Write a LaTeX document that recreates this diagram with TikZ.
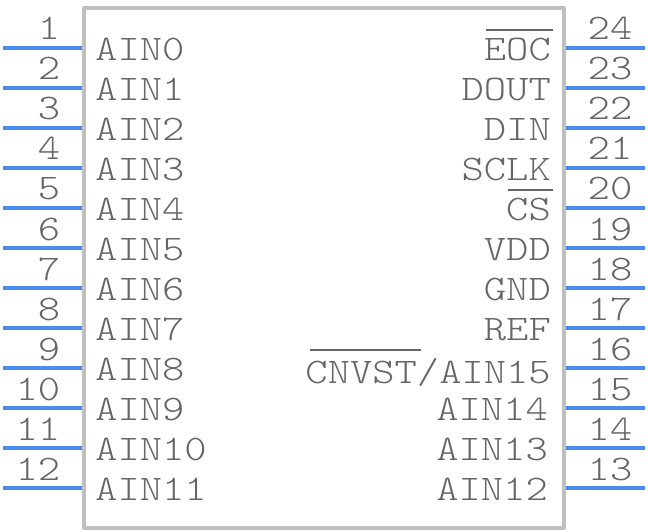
\documentclass[tikz,border=0pt]{standalone}
\usepackage{fontspec}
\newfontfamily\pinfont[FakeStretch=1.18]{Latin Modern Mono Light}
\definecolor{bodygrey}{HTML}{BFBFBF}
\definecolor{pinblue}{HTML}{4A8CF0}
\definecolor{textgrey}{HTML}{666666}
\tikzset{
  pinline/.style={draw=pinblue,line width=4pt},
  bodybox/.style={draw=bodygrey,line width=4pt,line join=round},
  txt/.style={inner sep=0pt,text=textgrey,font=\pinfont\fontsize{36}{36}\selectfont},
  lbl/.style={txt,anchor=base west},
  lbr/.style={txt,anchor=base east},
  numl/.style={txt,anchor=base east},
  numr/.style={txt,anchor=base west},
  bar/.style={draw=textgrey,line width=1.8pt}
}
\begin{document}
\begin{tikzpicture}[x=1pt,y=-1pt]
\useasboundingbox (0,0) rectangle (648,532);
\draw[bodybox] (84,8) rectangle (564,528);
% left pins
\foreach \n/\t [count=\i from 0] in {1/AIN0,2/AIN1,3/AIN2,4/AIN3,5/AIN4,6/AIN5,7/AIN6,8/AIN7,9/AIN8,10/AIN9,11/AIN10,12/AIN11}{
  \coordinate (pl\n) at (3,48+40*\i);
  \coordinate (el\n) at (82,48+40*\i);
  \draw[pinline] (pl\n) -- (el\n);
  \node[numl] (nl\n) at (60.5,40+40*\i) {\n};
  \node[lbl] (tl\n) at (95,60.4+40*\i) {\t};
}
% right pins
\foreach \n/\t [count=\i from 0] in {24/EOC,23/DOUT,22/DIN,21/SCLK,20/CS,19/VDD,18/GND,17/REF}{
  \coordinate (pr\n) at (645,48+40*\i);
  \coordinate (er\n) at (566,48+40*\i);
  \draw[pinline] (er\n) -- (pr\n);
  \node[numr] (nr\n) at (587.5,40+40*\i) {\n};
  \node[lbr] (tr\n) at (551,60.4+40*\i) {\t};
}
\coordinate (pr16) at (645,368); \coordinate (er16) at (566,368);
\draw[pinline] (er16) -- (pr16);
\node[numr] (nr16) at (587.5,360) {16};
\node[lbr] (tr16) at (551,383.4) {CNVST/AIN15};
\foreach \n/\t [count=\i from 9] in {15/AIN14,14/AIN13,13/AIN12}{
  \coordinate (pr\n) at (645,48+40*\i);
  \coordinate (er\n) at (566,48+40*\i);
  \draw[pinline] (er\n) -- (pr\n);
  \node[numr] (nr\n) at (587.5,40+40*\i) {\n};
  \node[lbr] (tr\n) at (548,60.4+40*\i) {\t};
}
% overbars
\draw[bar] (486,30) -- (552.5,30);
\draw[bar] (508,190) -- (552.5,190);
\draw[bar] (310,350) -- (421,350);
\end{tikzpicture}
\end{document}
